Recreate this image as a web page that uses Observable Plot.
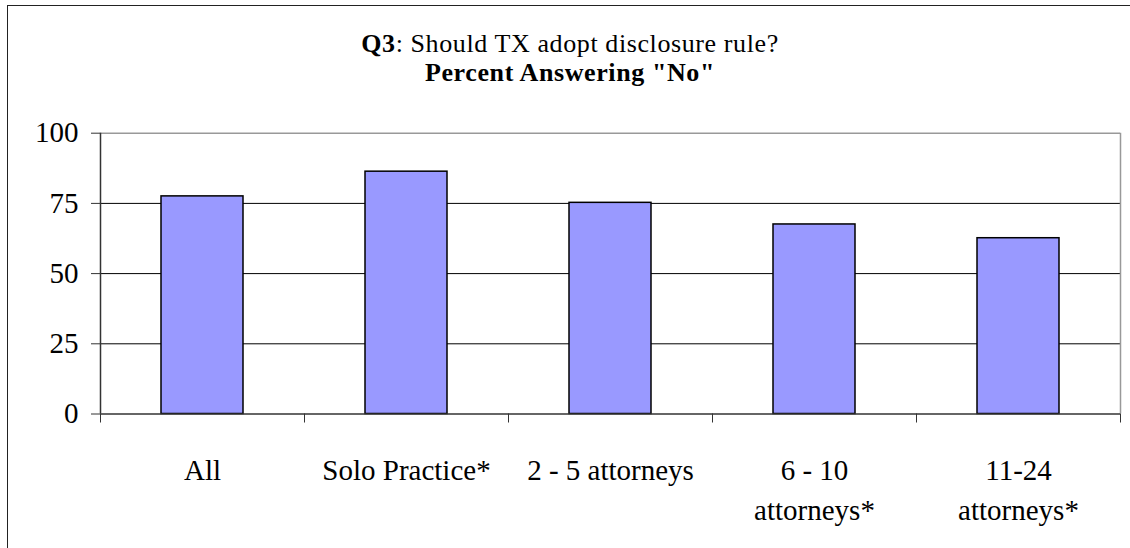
<!DOCTYPE html>
<html>
<head>
<meta charset="utf-8">
<script src="https://cdn.jsdelivr.net/npm/d3@7"></script>
<script src="https://cdn.jsdelivr.net/npm/@observablehq/plot@0.6"></script>
<style>
  html, body { margin: 0; padding: 0; background: #fff; }
  body { width: 1130px; height: 548px; position: relative; overflow: hidden; }
  #frame { position: absolute; left: 7px; top: 5px; width: 1200px; height: 700px; border-left: 1.5px solid #222; border-top: 1.5px solid #222; box-sizing: border-box; }
  #title { position: absolute; left: 0; top: 28.7px; width: 1140px; text-align: center; font-family: "Liberation Serif", "DejaVu Serif", serif !important; font-size: 26px; line-height: 29px; letter-spacing: 0.6px; color: #000; }
  #title b { font-family: "Liberation Serif", "DejaVu Serif", serif !important; }
  #chart { position: absolute; left: 0; top: 110px; }
</style>
</head>
<body>
<div id="frame"></div>
<div id="title" style="font-family: 'Liberation Serif', serif;"><b>Q3</b>: Should TX adopt disclosure rule?<br><b>Percent Answering "No"</b></div>
<div id="chart"></div>
<script>
const categories = ["All", "Solo Practice*", "2 - 5 attorneys", "6 - 10\nattorneys*", "11-24\nattorneys*"];
const values = [77.5, 86.3, 75.2, 67.5, 62.6];
const yTicks = [0, 25, 50, 75, 100];
const gridValues = [25, 50, 75];

const data = categories.map((label, i) => ({ i, label, value: values[i] }));
const boundaries = d3.range(categories.length + 1);

const svg = Plot.plot({
  width: 1130,
  height: 438,
  marginTop: 22.7,
  marginBottom: 134.5,
  marginLeft: 100,
  marginRight: 10,
  x: { type: "linear", domain: [0, categories.length], axis: null },
  y: { domain: [0, 100], axis: null },
  style: { fontFamily: "'Liberation Serif', 'Times New Roman', serif", fontSize: "29px", color: "#000", background: "transparent", overflow: "visible" },
  marks: [
    Plot.ruleY(gridValues, { stroke: "#000", strokeWidth: 1 }),
    Plot.ruleY([100], { stroke: "#999", strokeWidth: 1.5 }),
    Plot.ruleX([categories.length], { stroke: "#999", strokeWidth: 1.5 }),
    Plot.rectY(data, { x1: "i", x2: d => d.i + 1, y: "value", insetLeft: 61, insetRight: 61, fill: "#9999FF", stroke: "#000", strokeWidth: 1.5 }),
    Plot.ruleX([0], { stroke: "#333", strokeWidth: 1.5 }),
    Plot.ruleY([0], { stroke: "#333", strokeWidth: 1.5 }),
    Plot.axisY({ ticks: yTicks, tickSize: 9, tickPadding: 13, label: null, fontSize: 29, stroke: "#333" }),
    Plot.axisX({ ticks: boundaries, tickSize: 9, tickFormat: () => "", label: null, stroke: "#333" }),
    Plot.text(data, { x: d => d.i + 0.5, y: 0, text: "label", lineAnchor: "top", dy: 37, fontSize: 29, lineHeight: 1.4, fill: "#000" })
  ]
});
document.getElementById("chart").appendChild(svg);
</script>
</body>
</html>
